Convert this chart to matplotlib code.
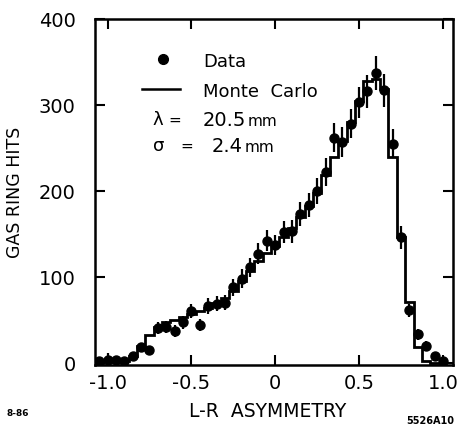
import numpy as np
import matplotlib.pyplot as plt

# bin centres of the L-R asymmetry
asym = [-1.05, -1.00, -0.95, -0.90, -0.85, -0.80, -0.75, -0.70, -0.65, -0.60,
        -0.55, -0.50, -0.45, -0.40, -0.35, -0.30, -0.25, -0.20, -0.15, -0.10,
        -0.05, 0.00, 0.05, 0.10, 0.15, 0.20, 0.25, 0.30, 0.35, 0.40,
        0.45, 0.50, 0.55, 0.60, 0.65, 0.70, 0.75, 0.80, 0.85, 0.90,
        0.95, 1.00]

data = [2, 3, 3, 2, 8, 18, 15, 41, 42, 37,
        47, 60, 44, 66, 69, 70, 88, 98, 111, 127,
        142, 137, 152, 153, 173, 184, 200, 222, 262, 257,
        278, 303, 316, 337, 317, 255, 146, 61, 33, 20,
        8, 2]

data_err = [2, 9, 2, 2, 4, 5, 5, 7, 7, 7,
            8, 8, 7, 9, 9, 9, 10, 11, 11, 12,
            12, 12, 13, 13, 14, 14, 15, 16, 17, 17,
            17, 18, 19, 20, 19, 17, 13, 8, 6, 5,
            3, 2]

monte_carlo = [0, 2, 1, 2, 8, 20, 32, 42, 47, 50,
               53, 57, 60, 64, 70, 76, 84, 95, 107, 118,
               128, 136, 146, 157, 170, 183, 198, 218, 240, 258,
               280, 305, 328, 330, 318, 240, 146, 71, 19, 2,
               0, 0]

xticks = [-1.0, -0.5, 0.0, 0.5, 1.0]
xticklabels = ["-1.0", "-0.5", "0", "0.5", "1.0"]
yticks = [0, 100, 200, 300, 400]

W, H = 464, 431
fig = plt.figure(figsize=(W / 100, H / 100), dpi=100)
ax = fig.add_axes([95 / W, 1 - 366 / H, 358 / W, 346 / H])

centres = np.array(asym)
half = 0.025
edges = np.append(centres - half, centres[-1] + half)
ax.stairs(monte_carlo, edges, color="black", lw=2.0, baseline=None)
ax.errorbar(asym, data, yerr=data_err, fmt="o", color="black", ms=6.5,
            elinewidth=1.6, capsize=0)

ax.set_xlim(-1.075, 1.06)
ax.set_ylim(-2.5, 400)
ax.set_xticks(xticks)
ax.set_xticklabels(xticklabels)
ax.set_yticks(yticks)
ax.set_yticklabels([str(v) for v in yticks])
ax.tick_params(direction="in", length=7, width=1.5, top=True, right=True,
               labelsize=14)
ax.tick_params(axis="x", pad=6)
ax.tick_params(axis="y", pad=14)
for s in ax.spines.values():
    s.set_linewidth(1.8)

# legend / annotation block
def ft(x, y, s, **kw):
    fig.text(x / W, 1 - y / H, s, va="center", **kw)

ax.plot([163 / W], [1 - 60 / H], "o", color="black", ms=7,
        transform=fig.transFigure, clip_on=False)
ft(203, 62, "Data", fontsize=13)
ax.plot([142 / W, 180 / W], [1 - 90 / H, 1 - 90 / H], color="black", lw=1.8,
        transform=fig.transFigure, clip_on=False)
ft(203, 92, "Monte  Carlo", fontsize=13)
ft(152, 120, "λ", fontsize=13)
ft(168, 120, "=", fontsize=11)
ft(203, 120, "20.5", fontsize=14)
ft(248, 122, "mm", fontsize=11)
ft(153, 146, "σ", fontsize=13)
ft(180, 146, "=", fontsize=11)
ft(212, 146, "2.4", fontsize=14)
ft(245, 148, "mm", fontsize=11)

fig.text(15 / W, 1 - 192 / H, "GAS RING HITS", rotation=90, fontsize=12.5,
         ha="center", va="center")
fig.text(268 / W, 1 - 412 / H, "L-R  ASYMMETRY", fontsize=13.5,
         ha="center", va="center")
fig.text(18 / W, 1 - 414 / H, "8-86", fontsize=6.5, fontweight="bold",
         ha="center", va="center")
fig.text(430 / W, 1 - 421 / H, "5526A10", fontsize=7, fontweight="bold",
         ha="center", va="center")

fig.savefig("out.png", dpi=100)
